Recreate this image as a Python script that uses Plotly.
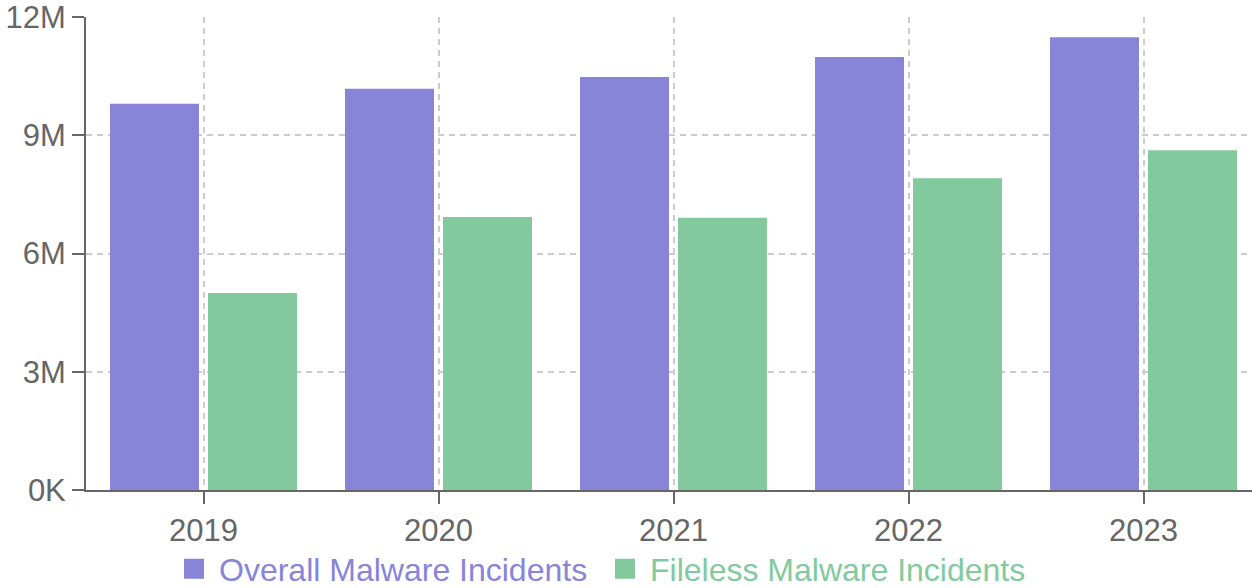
import plotly.graph_objects as go

years = ["2019", "2020", "2021", "2022", "2023"]
overall = [9.8e6, 10.18e6, 10.48e6, 10.99e6, 11.49e6]
fileless = [5.0e6, 6.93e6, 6.91e6, 7.91e6, 8.62e6]
y_tickvals = [0, 3e6, 6e6, 9e6, 12e6]
y_ticktext = ["0K", "3M", "6M", "9M", "12M"]

C1 = "#8884d8"
C2 = "#82ca9d"
AX = "#666666"
GRID = "#cccccc"
FONT = "Liberation Sans, Arial, Helvetica, sans-serif"

W, H = 1252, 588
L, R, T, B = 86, 0, 17, 98
band = 235.0
plot_w = W - L - R
plot_h = H - T - B

fig = go.Figure()
fig.add_trace(go.Bar(x=years, y=overall, name="Overall Malware Incidents",
                     marker=dict(color=C1, line=dict(width=0)), showlegend=False))
fig.add_trace(go.Bar(x=years, y=fileless, name="Fileless Malware Incidents",
                     marker=dict(color=C2, line=dict(width=0)), showlegend=False))

# legend proxies
fig.add_trace(go.Scatter(x=[None], y=[None], mode="markers", name="Overall Malware Incidents",
                         marker=dict(symbol="square", size=16, color=C1, line=dict(width=4, color=C1)),
                         legend="legend"))
fig.add_trace(go.Scatter(x=[None], y=[None], mode="markers", name="Fileless Malware Incidents",
                         marker=dict(symbol="square", size=16, color=C2, line=dict(width=4, color=C2)),
                         legend="legend2"))

ly = (490 - 569) / plot_h

fig.update_layout(
    width=W, height=H, autosize=False,
    margin=dict(l=L, r=R, t=T, b=B, pad=0, autoexpand=False),
    paper_bgcolor="white", plot_bgcolor="white",
    font=dict(family=FONT, color=AX, size=31),
    barmode="group", bargap=0.166, bargroupgap=0.0918,
    legend=dict(x=(169 - L) / plot_w, xanchor="left", y=ly, yanchor="middle",
                font=dict(size=32, color=C1, family=FONT), bgcolor="rgba(0,0,0,0)",
                borderwidth=0, itemwidth=40),
    legend2=dict(x=(600 - L) / plot_w, xanchor="left", y=ly, yanchor="middle",
                 font=dict(size=32, color=C2, family=FONT), bgcolor="rgba(0,0,0,0)",
                 borderwidth=0, itemwidth=40),
    xaxis=dict(type="category", range=[-0.5, -0.5 + plot_w / band],
               showline=True, linecolor=AX, linewidth=2,
               ticks="outside", ticklen=12, tickwidth=2, tickcolor=AX,
               showgrid=True, gridcolor=GRID, gridwidth=1.5, griddash="6px,5px",
               tickfont=dict(size=31, color=AX), zeroline=False, fixedrange=True,
               ticklabeloverflow="allow"),
    yaxis=dict(range=[0, 12.003e6], tickvals=y_tickvals, ticktext=y_ticktext,
               showline=True, linecolor=AX, linewidth=2,
               ticks="outside", ticklen=12, tickwidth=2, tickcolor=AX,
               showgrid=True, gridcolor=GRID, gridwidth=1.5, griddash="6px,5px",
               tickfont=dict(size=31, color=AX), zeroline=False, fixedrange=True,
               ticklabelstandoff=0, ticklabeloverflow="allow"),
)

fig.write_html("out.html")
